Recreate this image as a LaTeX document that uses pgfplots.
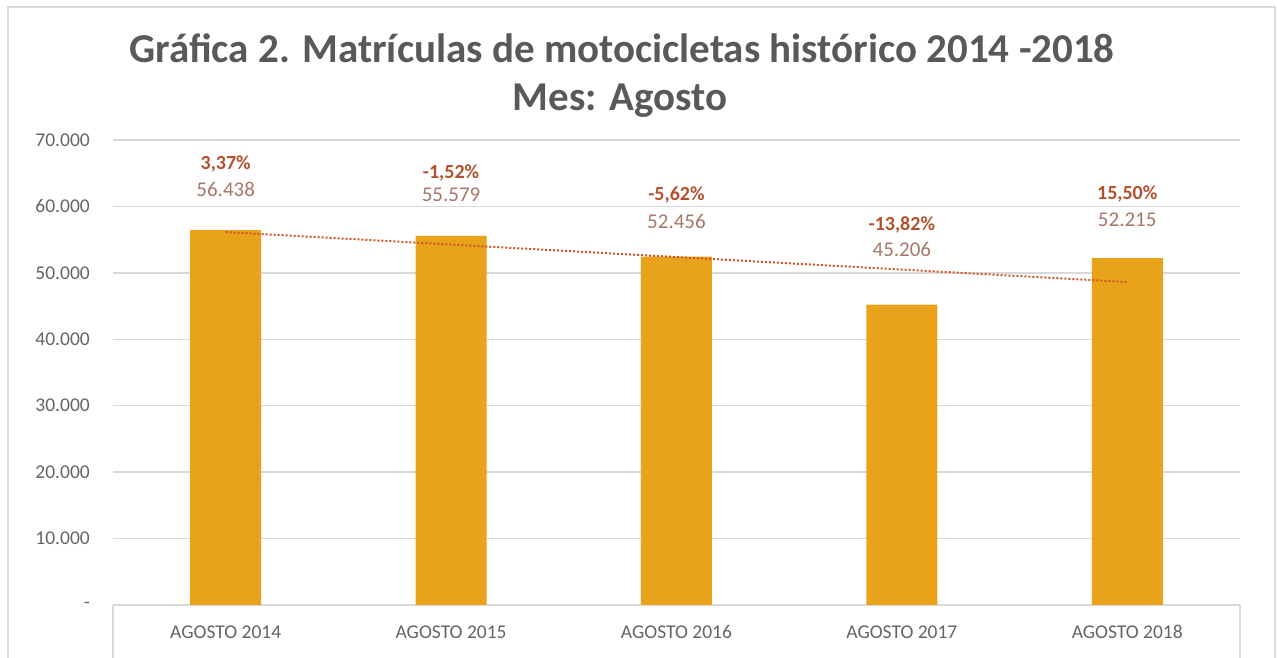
\documentclass[border=0pt]{standalone}
\usepackage{fontspec}
\setmainfont{Carlito}
\usepackage{pgfplots}
\pgfplotsset{compat=1.18}
\usepackage{pgfplotstable}
\definecolor{barcol}{RGB}{233,163,27}
\definecolor{gridcol}{RGB}{217,217,217}
\definecolor{titlecol}{RGB}{89,89,89}
\definecolor{tickcol}{RGB}{100,100,100}
\definecolor{pctcol}{RGB}{180,80,45}
\definecolor{valcol}{RGB}{165,120,105}
\definecolor{trendcol}{RGB}{205,85,40}
\pgfplotstableread{
x val pct voff poff
0 56438 3.37 33 58
1 55579 -1.52 34 54
2 52456 -5.62 28 53
3 45206 -13.82 48 71
4 52215 15.50 31 56
}\data
\begin{document}
\begin{tikzpicture}
\path[use as bounding box] (0,0) rectangle (1277pt,658pt);
\draw[gridcol, line width=1.5pt] (8pt,-5pt) -- (8pt,651pt) -- (1275pt,651pt) -- (1275pt,-5pt);
\node[anchor=base, text=titlecol, font=\fontsize{41}{48}\selectfont\bfseries] at (622pt,595pt) {Gráfica 2. Matrículas de motocicletas histórico 2014 -2018};
\node[anchor=base, text=titlecol, font=\fontsize{41}{48}\selectfont\bfseries] at (620pt,547pt) {Mes: Agosto};
\begin{axis}[
  at={(113pt,53pt)}, anchor=south west,
  scale only axis, width=1127pt, height=465pt,
  xmin=-0.5, xmax=4.5, ymin=0, ymax=70000,
  scaled y ticks=false,
  axis line style={draw=none},
  major tick length=0pt,
  ymajorgrids, grid style={gridcol, line width=1.3pt},
  ytick={0,10000,...,70000},
  yticklabels={-\hspace{12pt},10.000,20.000,30.000,40.000,50.000,60.000,70.000},
  xtick={0,1,2,3,4},
  xticklabels={AGOSTO 2014,AGOSTO 2015,AGOSTO 2016,AGOSTO 2017,AGOSTO 2018},
  yticklabel style={anchor=east, inner sep=0pt, xshift=-23pt, text=tickcol, font=\fontsize{19.5}{22}\selectfont},
  xticklabel style={anchor=base, inner sep=0pt, yshift=-34pt, text=tickcol, font=\fontsize{19.5}{22}\selectfont},
  clip=false,
]
\addplot[ybar, bar width=71pt, fill=barcol, draw=none,
  point meta=y,
  visualization depends on={\thisrow{voff} \as \voff},
  nodes near coords={\pgfmathprintnumber[fixed,precision=0,1000 sep={.},assume math mode=true]{\pgfplotspointmeta}},
  nodes near coords style={anchor=south, inner sep=0pt, yshift=\voff pt, text=valcol, font=\fontsize{21}{27}\selectfont},
] table[x=x, y=val] {\data};
\addplot[ybar, bar width=71pt, fill=none, draw=none,
  point meta=explicit,
  visualization depends on={\thisrow{poff} \as \poff},
  nodes near coords={\pgfmathprintnumber[fixed,fixed zerofill,precision=2,use comma,assume math mode=true]{\pgfplotspointmeta}\%},
  nodes near coords style={anchor=south, inner sep=0pt, yshift=\poff pt, text=pctcol, font=\fontsize{20}{27}\selectfont\bfseries},
] table[x=x, y=val, meta=pct] {\data};
\addplot[trendcol, line width=2pt, dash pattern=on 2pt off 2pt, no marks]
  table[x=x, y={create col/linear regression={y=val}}] {\data};
\draw[gridcol, line width=1.3pt] (rel axis cs:0,0) -- ([yshift=-60pt]rel axis cs:0,0);
\draw[gridcol, line width=1.3pt] (rel axis cs:1,0) -- ([yshift=-60pt]rel axis cs:1,0);
\end{axis}
\end{tikzpicture}
\end{document}
